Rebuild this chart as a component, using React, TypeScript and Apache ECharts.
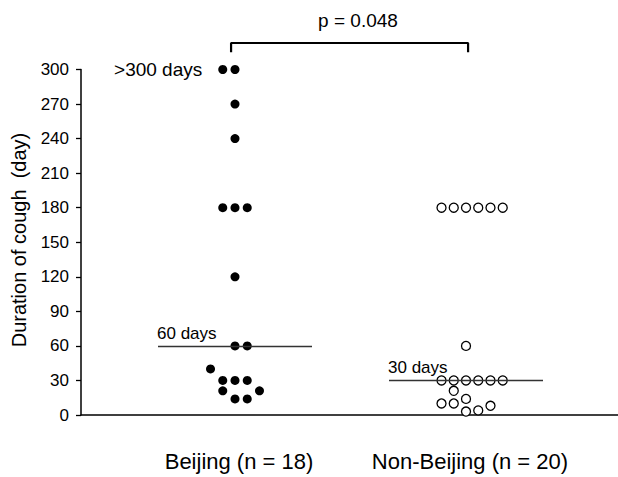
import React, { useEffect, useRef } from "react";
import * as echarts from "echarts";

// ---------- data ----------
const groups = ["Beijing (n = 18)", "Non-Beijing (n = 20)"];
const beijingDays = [300, 300, 270, 240, 180, 180, 180, 120, 60, 60, 40, 30, 30, 30, 21, 21, 14, 14];
const beijingSlot = [-1, 0, 0, 0, -1, 0, 1, 0, 0, 1, -2, -1, 0, 1, -1, 2, 0, 1];
const nonBeijingDays = [180, 180, 180, 180, 180, 180, 60, 30, 30, 30, 30, 30, 30, 21, 14, 10, 10, 3, 4, 8];
const nonBeijingSlot = [-2, -1, 0, 1, 2, 3, 0, -2, -1, 0, 1, 2, 3, -1, 0, -2, -1, 0, 1, 2];
const medians = [60, 30];
const medianLabels = ["60 days", "30 days"];
const topLabel = ">300 days";
const pValueText = "p = 0.048";
const yTitle = "Duration of cough  (day)";
const yMin = 0;
const yMax = 300;
const yStep = 30;

// ---------- layout constants ----------
const FONT = '"Liberation Sans", Arial, Helvetica, sans-serif';
const SLOT = 0.053; // horizontal spacing between stacked dots (x units)
const HALF_MEDIAN = 1 / 3;
const BRACKET = { left: 0.983, right: 2.009, top: 323, foot: 315 };

export default function App() {
  const ref = useRef<HTMLDivElement>(null);

  useEffect(() => {
    if (!ref.current) return;
    const chart = echarts.init(ref.current, null, { renderer: "svg" });

    const beijingData = beijingDays.map((d, i) => {
      const item: any = { value: [1 + beijingSlot[i] * SLOT, d] };
      if (i === 0) {
        item.label = {
          show: true,
          formatter: topLabel,
          position: "left",
          distance: 16,
          color: "#000",
          fontSize: 19,
          fontFamily: FONT,
        };
      }
      return item;
    });
    const nonBeijingData = nonBeijingDays.map((d, i) => [2 + nonBeijingSlot[i] * SLOT, d]);

    const option: any = {
      animation: false,
      backgroundColor: "#fff",
      grid: { left: 81, right: 0, top: 69.5, bottom: 62 },
      xAxis: {
        type: "value",
        min: 1 / 3,
        max: 2.658,
        splitLine: { show: false },
        axisTick: { show: false },
        axisLine: { show: true, onZero: true, lineStyle: { color: "#000", width: 1.5 } },
        axisLabel: {
          show: true,
          customValues: [1, 2],
          formatter: (v: number) => groups[Math.round(v) - 1] ?? "",
          color: "#000",
          fontSize: 22,
          fontFamily: FONT,
          margin: 35,
          padding: [0, 0, 0, 8],
        },
      },
      yAxis: {
        type: "value",
        min: yMin,
        max: yMax,
        interval: yStep,
        splitLine: { show: false },
        axisLine: { show: true, lineStyle: { color: "#000", width: 1.5 } },
        axisTick: { show: true, length: 5, lineStyle: { color: "#000", width: 1.3 } },
        axisLabel: { color: "#000", fontSize: 17, fontFamily: FONT, margin: 12 },
      },
      series: [
        {
          type: "scatter",
          name: groups[0],
          data: beijingData,
          symbol: "circle",
          symbolSize: 9,
          itemStyle: { color: "#000", opacity: 1 },
          z: 3,
          markLine: {
            silent: true,
            symbol: ["none", "none"],
            lineStyle: { color: "#333", width: 1.3, type: "solid", opacity: 1 },
            label: {
              show: true,
              position: "insideStartTop",
              formatter: "{b}",
              color: "#000",
              fontSize: 17,
              fontFamily: FONT,
              distance: 4,
              offset: [-5, 0],
            },
            data: medians.map((m, i) => [
              { name: medianLabels[i], coord: [i + 1 - HALF_MEDIAN, m] },
              { coord: [i + 1 + HALF_MEDIAN, m] },
            ]),
          },
        },
        {
          type: "scatter",
          name: groups[1],
          data: nonBeijingData,
          symbol: "circle",
          symbolSize: 9,
          itemStyle: { color: "#fff", borderColor: "#000", borderWidth: 1.3, opacity: 1 },
          z: 4,
        },
        {
          type: "line",
          name: "bracket",
          clip: false,
          showSymbol: false,
          symbol: "none",
          silent: true,
          lineStyle: { color: "#000", width: 2.2 },
          data: [
            [BRACKET.left, BRACKET.foot],
            [BRACKET.left, BRACKET.top],
            [BRACKET.right, BRACKET.top],
            [BRACKET.right, BRACKET.foot],
          ],
        },
      ],
      graphic: [
        {
          type: "text",
          x: 358,
          y: 20,
          style: {
            text: pValueText,
            fill: "#000",
            font: `19px ${FONT}`,
            textAlign: "center",
            textVerticalAlign: "middle",
          },
        },
        {
          type: "text",
          x: 18.5,
          y: 240,
          rotation: Math.PI / 2,
          style: {
            text: yTitle,
            fill: "#000",
            font: `20px ${FONT}`,
            textAlign: "center",
            textVerticalAlign: "middle",
          },
        },
      ],
    };

    chart.setOption(option);
    return () => chart.dispose();
  }, []);

  return (
    <div
      ref={ref}
      style={{ position: "fixed", left: 0, top: 0, width: 618, height: 477, background: "#fff" }}
    />
  );
}
